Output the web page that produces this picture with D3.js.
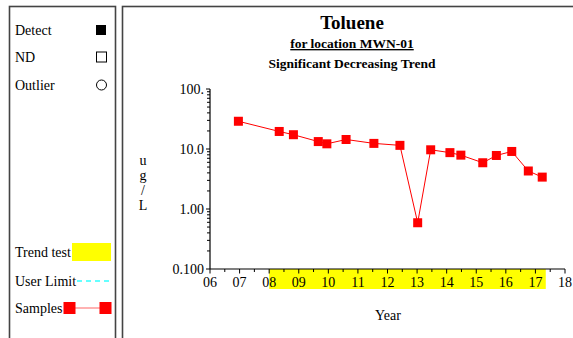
<!DOCTYPE html>
<html>
<head>
<meta charset="utf-8">
<script src="https://cdn.jsdelivr.net/npm/d3@7"></script>
<style>
  html, body { margin: 0; padding: 0; background: #fff; }
  svg, svg text { font-family: 'Liberation Serif', 'Times New Roman', Times, serif; }
</style>
</head>
<body>
<svg id="chart" width="573" height="338"></svg>
<script>
// Sample dates (decimal years) and measured concentrations (ug/L)
const sampleDates = [2006.96, 2008.34, 2008.82, 2009.66, 2009.95, 2010.60, 2011.54, 2012.42,
                     2013.02, 2013.46, 2014.11, 2014.48, 2015.22, 2015.68, 2016.20, 2016.76, 2017.23];
const sampleValues = [29.0, 19.6, 17.3, 13.3, 12.2, 14.4, 12.4, 11.5,
                      0.59, 9.7, 8.7, 7.9, 5.9, 7.8, 9.1, 4.3, 3.4];

// Period covered by the trend test
const trendPeriod = [2008.0, 2017.35];

// Axis tick values and labels
const xTickYears = [2006, 2007, 2008, 2009, 2010, 2011, 2012, 2013, 2014, 2015, 2016, 2017, 2018];
const xTickLabels = ["06", "07", "08", "09", "10", "11", "12", "13", "14", "15", "16", "17", "18"];
const yTickValues = [100, 10, 1, 0.1];
const yTickLabels = ["100.", "10.0", "1.00", "0.100"];

// Legend entries
const legendSymbols = ["Detect", "ND", "Outlier"];
const legendLines = ["Trend test", "User Limit", "Samples"];

const FONT = "'Liberation Serif', 'Times New Roman', Times, serif";
const svg = d3.select("#chart").attr("font-family", FONT);

// Panel frames
svg.append("rect").attr("x", 9.5).attr("y", 6.5).attr("width", 106).attr("height", 345)
  .attr("fill", "none").attr("stroke", "#444").attr("stroke-width", 1.6);
svg.append("rect").attr("x", 122.5).attr("y", 6.5).attr("width", 470).attr("height", 345)
  .attr("fill", "none").attr("stroke", "#444").attr("stroke-width", 1.6);

// Scales
const x = d3.scaleLinear().domain([2006, 2018]).range([210, 565]);
const y = d3.scaleLog().domain([0.1, 100]).range([269, 89]);

// Titles
const titleX = 352;
svg.append("text").attr("x", titleX).attr("y", 29).attr("text-anchor", "middle")
  .attr("font-size", 19).attr("font-weight", "bold").text("Toluene");
svg.append("text").attr("x", titleX).attr("y", 48).attr("text-anchor", "middle")
  .attr("font-size", 13.5).attr("font-weight", "bold").attr("text-decoration", "underline")
  .text("for location MWN-01");
svg.append("text").attr("x", titleX).attr("y", 68).attr("text-anchor", "middle")
  .attr("font-size", 13.5).attr("font-weight", "bold").text("Significant Decreasing Trend");

// Trend test band under the x axis
svg.append("rect")
  .attr("x", x(trendPeriod[0])).attr("y", 269)
  .attr("width", x(trendPeriod[1]) - x(trendPeriod[0])).attr("height", 20)
  .attr("fill", "#ffff00");

// Y axis: log scale with decade labels and minor ticks
const yAxisG = svg.append("g").attr("transform", "translate(210,0)");
yAxisG.append("line").attr("x1", 0).attr("x2", 0).attr("y1", y(100)).attr("y2", y(0.1))
  .attr("stroke", "#000").attr("stroke-width", 1.2);
const minorY = [];
[0.1, 1, 10].forEach(d => { for (let k = 2; k <= 9; k++) minorY.push(d * k); });
yAxisG.selectAll("line.minor").data(minorY).join("line").attr("class", "minor")
  .attr("x1", -3).attr("x2", 0).attr("y1", d => y(d)).attr("y2", d => y(d))
  .attr("stroke", "#000").attr("stroke-width", 1);
yAxisG.selectAll("line.major").data(yTickValues).join("line").attr("class", "major")
  .attr("x1", -4).attr("x2", 0).attr("y1", d => y(d)).attr("y2", d => y(d))
  .attr("stroke", "#000").attr("stroke-width", 1);
yAxisG.selectAll("text").data(yTickValues).join("text")
  .attr("x", -6).attr("y", d => y(d) + 4.5).attr("text-anchor", "end")
  .attr("font-family", FONT).attr("font-size", 14).text((d, i) => yTickLabels[i]);

// Y axis title, stacked letters
["u", "g", "/", "L"].forEach((ch, i) => {
  svg.append("text").attr("x", 143).attr("y", 165 + i * 15).attr("text-anchor", "middle")
    .attr("font-size", 14).text(ch);
});

// X axis with yearly and half-year ticks
const xAxisG = svg.append("g");
xAxisG.append("line").attr("x1", x(2006)).attr("x2", x(2018)).attr("y1", 269).attr("y2", 269)
  .attr("stroke", "#000").attr("stroke-width", 1.2);
const halfYears = xTickYears.slice(0, -1).map(d => d + 0.5);
xAxisG.selectAll("line.minor").data(halfYears).join("line").attr("class", "minor")
  .attr("x1", d => x(d)).attr("x2", d => x(d)).attr("y1", 269).attr("y2", 272)
  .attr("stroke", "#000").attr("stroke-width", 1);
xAxisG.selectAll("line.major").data(xTickYears).join("line").attr("class", "major")
  .attr("x1", d => x(d)).attr("x2", d => x(d)).attr("y1", 269).attr("y2", 273.5)
  .attr("stroke", "#000").attr("stroke-width", 1);
xAxisG.selectAll("text").data(xTickYears).join("text")
  .attr("x", d => x(d)).attr("y", 287).attr("text-anchor", "middle")
  .attr("font-size", 14).text((d, i) => xTickLabels[i]);
svg.append("text").attr("x", 388).attr("y", 320).attr("text-anchor", "middle")
  .attr("font-size", 14).text("Year");

// Sample series
const pts = sampleDates.map((d, i) => [d, sampleValues[i]]);
svg.append("path").datum(pts)
  .attr("d", d3.line().x(d => x(d[0])).y(d => y(d[1])))
  .attr("fill", "none").attr("stroke", "#ff0000").attr("stroke-width", 1);
svg.selectAll("rect.pt").data(pts).join("rect").attr("class", "pt")
  .attr("x", d => x(d[0]) - 4.5).attr("y", d => y(d[1]) - 4.5)
  .attr("width", 9).attr("height", 9).attr("fill", "#ff0000");

// Legend: symbol entries
const legendSymY = [30, 57, 85];
legendSymbols.forEach((name, i) => {
  svg.append("text").attr("x", 15).attr("y", legendSymY[i] + 4.5).attr("font-size", 14).text(name);
});
svg.append("rect").attr("x", 96).attr("y", legendSymY[0] - 5).attr("width", 10).attr("height", 10).attr("fill", "#000");
svg.append("rect").attr("x", 96.5).attr("y", legendSymY[1] - 5).attr("width", 10).attr("height", 10)
  .attr("fill", "#fff").attr("stroke", "#000").attr("stroke-width", 1);
svg.append("circle").attr("cx", 101.5).attr("cy", legendSymY[2]).attr("r", 5)
  .attr("fill", "#fff").attr("stroke", "#000").attr("stroke-width", 1);

// Legend: band and line entries
const legendLineY = [252, 281, 308];
legendLines.forEach((name, i) => {
  svg.append("text").attr("x", 15).attr("y", legendLineY[i] + 4.5).attr("font-size", 14).text(name);
});
svg.append("rect").attr("x", 72).attr("y", legendLineY[0] - 9).attr("width", 39).attr("height", 18).attr("fill", "#ffff00");
svg.append("line").attr("x1", 77).attr("x2", 111).attr("y1", legendLineY[1]).attr("y2", legendLineY[1])
  .attr("stroke", "#33ffff").attr("stroke-width", 1.5).attr("stroke-dasharray", "5,4");
svg.append("line").attr("x1", 69).attr("x2", 105).attr("y1", legendLineY[2]).attr("y2", legendLineY[2])
  .attr("stroke", "#ff6666").attr("stroke-width", 1.2);
svg.append("rect").attr("x", 63.5).attr("y", legendLineY[2] - 6).attr("width", 12).attr("height", 12).attr("fill", "#ff0000");
svg.append("rect").attr("x", 99.5).attr("y", legendLineY[2] - 6).attr("width", 12).attr("height", 12).attr("fill", "#ff0000");
</script>
</body>
</html>
